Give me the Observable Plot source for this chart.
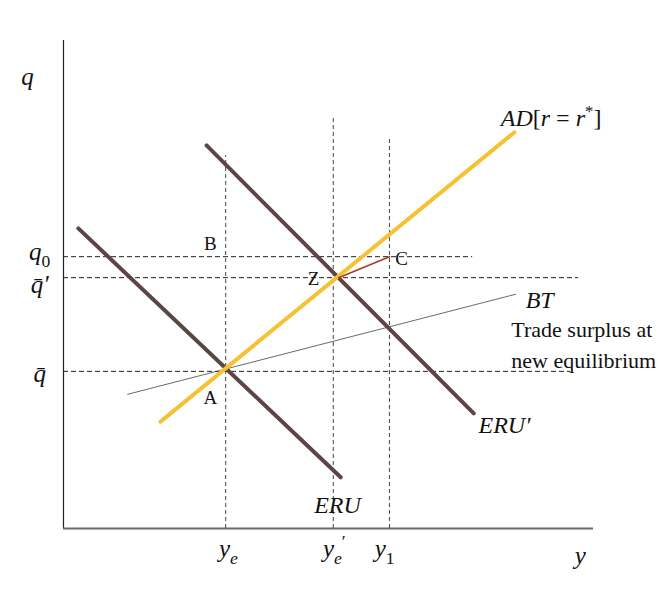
<!DOCTYPE html>
<html>
<head>
<meta charset="utf-8">
<script src="https://cdn.jsdelivr.net/npm/d3@7"></script>
<script src="https://cdn.jsdelivr.net/npm/@observablehq/plot@0.6"></script>
<style>
  html, body { margin: 0; padding: 0; background: #fff; overflow: hidden; }
  #chart svg { display: block; }
  #chart text { white-space: pre; }
</style>
</head>
<body>
<div id="chart"></div>
<script>
// Key levels (abstract units: origin at axes corner)
const yLevels = { ye: 3.06, yeP: 5.09, y1: 6.15 };
const qLevels = { qbar: 3.22, qbarP: 5.14, q0: 5.57 };

// Curves (endpoints in data units)
const eruX = [0.28, 5.23];       const eruY = [6.15, 1.05];
const eruPX = [2.70, 7.74];      const eruPY = [7.85, 2.36];
const adX = [1.83, 8.51];        const adY = [2.19, 8.12];
const btX = [1.21, 8.53];        const btY = [2.75, 4.80];
const zcX = [5.19, 6.15];        const zcY = [5.14, 5.57];

// Dashed guide extents
const vGuideX = [yLevels.ye, yLevels.yeP, yLevels.y1];
const vGuideTop = [7.64, 8.40, 8.01];
const hGuideY = [qLevels.q0, qLevels.qbarP, qLevels.qbar];
const hGuideRight = [7.72, 9.72, 9.57];

// Tick labels (rich markup: i=italic, n=upright, b=italic sub, c=upright sub, p=sup)
const xTickLabels = ["i:y|b:e", "i:y|b:e|p:\u2032", "i:y|c:1"];
const xTickPos = [3.11, 5.11, 6.06];
const yTickLabels = ["i:q|c:0", "i:q\u0304\u2032", "i:q\u0304"];
const yTickPos = [5.66, 4.98, 3.16];

// Point labels
const ptLabels = ["B", "Z", "C", "A"];
const ptX = [2.77, 4.72, 6.38, 2.77];
const ptY = [5.84, 5.12, 5.53, 2.68];

// Curve names
const curveNames = ["i:AD|n:[|i:r|n: = |i:r|p:*|n:]", "i:BT", "i:ERU\u2032", "i:ERU"];
const curveNameX = [8.25, 8.72, 7.83, 4.73];
const curveNameY = [8.40, 4.67, 2.11, 0.47];

const noteLines = ["Trade surplus at", "new equilibrium"];
const noteY = [4.06, 3.44];

const seg = (xs, ys) => xs.map((x, i) => ({x, y: ys[i]}));
const serif = "'Liberation Serif', 'DejaVu Serif', serif";

const plot = Plot.plot({
  width: 658,
  height: 602,
  margin: 0,
  style: { fontFamily: serif, background: "#fff", overflow: "visible" },
  x: { domain: [0, 10], range: [63, 593], axis: null },
  y: { domain: [0, 10], range: [528, 40], axis: null },
  marks: [
    Plot.ruleX([0], { y1: 0, y2: 10, stroke: "#222", strokeWidth: 1.2 }),
    Plot.ruleY([0], { x1: 0, x2: 10, stroke: "#6a6a6a", strokeWidth: 1.8 }),
    Plot.ruleX(vGuideX.map((x, i) => ({x, top: vGuideTop[i]})), { x: "x", y1: 0, y2: "top", stroke: "#444", strokeWidth: 1, strokeDasharray: "4,3" }),
    Plot.ruleY(hGuideY.map((y, i) => ({y, right: hGuideRight[i]})), { y: "y", x1: 0, x2: "right", stroke: "#222", strokeWidth: 1, strokeDasharray: "5,3" }),
    Plot.line(seg(btX, btY), { x: "x", y: "y", stroke: "#444", strokeWidth: 0.8 }),
    Plot.line(seg(eruX, eruY), { x: "x", y: "y", stroke: "#5b4545", strokeWidth: 4 }),
    Plot.line(seg(eruPX, eruPY), { x: "x", y: "y", stroke: "#5b4545", strokeWidth: 4 }),
    Plot.line(seg(adX, adY), { x: "x", y: "y", stroke: "#f4c232", strokeWidth: 4 }),
    Plot.line(seg(zcX, zcY), { x: "x", y: "y", stroke: "#a4401c", strokeWidth: 1.6 }),
    Plot.text(ptLabels.map((t, i) => ({t, x: ptX[i], y: ptY[i]})), { x: "x", y: "y", text: "t", fontSize: 19, fill: "#111", textAnchor: "middle", lineAnchor: "middle" }),
    Plot.text(xTickLabels.map((t, i) => ({t, x: xTickPos[i]})), { x: "x", y: -0.41, text: "t", fontSize: 25, fill: "#111", textAnchor: "middle", lineAnchor: "middle" }),
    Plot.text(yTickLabels.map((t, i) => ({t, y: yTickPos[i]})), { x: -0.45, y: "y", text: "t", fontSize: 25, fill: "#111", textAnchor: "middle", lineAnchor: "middle" }),
    Plot.text(["i:q"], { x: -0.68, y: 9.25, text: d => d, fontSize: 25, fill: "#111", lineAnchor: "middle" }),
    Plot.text(["i:y"], { x: 9.75, y: -0.57, text: d => d, fontSize: 25, fill: "#111", lineAnchor: "middle" }),
    Plot.text(curveNames.map((t, i) => ({t, x: curveNameX[i], y: curveNameY[i]})), { x: "x", y: "y", text: "t", fontSize: 24, fill: "#111", textAnchor: "start", lineAnchor: "middle" }),
    Plot.text(noteLines.map((t, i) => ({t, y: noteY[i]})), { x: 8.45, y: "y", text: "t", fontSize: 22, textAnchor: "start", fill: "#111", lineAnchor: "middle" })
  ]
});

document.getElementById("chart").appendChild(plot);

// Turn the simple markup into tspans (italic / sub / superscript)
d3.select(plot).selectAll("text").each(function() {
  const raw = this.textContent;
  if (!/^[inbcp]:/.test(raw)) return;
  const g = this.closest("g[font-size]");
  const fs = parseFloat(g ? g.getAttribute("font-size") : getComputedStyle(this).fontSize) || 20;
  const el = d3.select(this);
  el.text(null);
  let offset = 0;
  for (const part of raw.split("|")) {
    const k = part[0];
    const s = part.slice(2);
    let target = 0, size = fs, style = "italic";
    if (k === "n") style = "normal";
    if (k === "b" || k === "c") { target = 0.28 * fs; size = 0.7 * fs; }
    if (k === "c") style = "normal";
    if (k === "p") { target = -0.38 * fs; size = 0.7 * fs; style = "normal"; }
    el.append("tspan")
      .attr("dy", target - offset)
      .attr("font-size", size)
      .attr("font-style", style)
      .text(s);
    offset = target;
  }
});
</script>
</body>
</html>
